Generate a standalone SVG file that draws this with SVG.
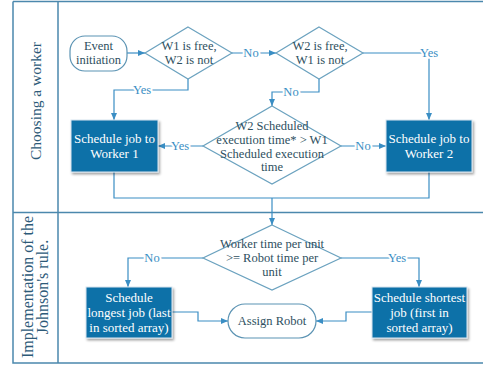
<svg xmlns="http://www.w3.org/2000/svg" width="483" height="365" viewBox="0 0 483 365">
<style>
.frame{fill:none;stroke:#4b88ad;stroke-width:1.5}
.lane{font-family:"Liberation Serif","DejaVu Serif",serif;font-size:16px;fill:#2d5a78;text-anchor:middle}
.dia{fill:#fff;stroke:#6ba2bf;stroke-width:1.2}
.term{fill:#fff;stroke:#5b93b3;stroke-width:1.2}
.box{fill:#1171a8;stroke:#d8e6ef;stroke-width:1}
.t{font-family:"Liberation Serif","DejaVu Serif",serif;font-size:12.5px;fill:#2e4f60;text-anchor:middle}
.tw{font-family:"Liberation Serif","DejaVu Serif",serif;font-size:13px;fill:#fff;text-anchor:middle}
.c{fill:none;stroke:#3a8ec4;stroke-width:1.2;marker-end:url(#ah)}
.cl{fill:none;stroke:#3a8ec4;stroke-width:1.2}
.lbl{font-family:"Liberation Serif","DejaVu Serif",serif;font-size:12.5px;fill:#3a8ec4;text-anchor:middle;stroke:#fff;stroke-width:4;paint-order:stroke}
</style>
<defs>
<marker id="ah" markerWidth="8" markerHeight="8" refX="7" refY="4" orient="auto" markerUnits="userSpaceOnUse">
<path d="M0,1 L7,4 L0,7 Z" fill="#3a8ec4"/>
</marker>
<filter id="sh" x="-10%" y="-10%" width="130%" height="130%">
<feDropShadow dx="1.5" dy="2" stdDeviation="1.2" flood-color="#000" flood-opacity="0.35"/>
</filter>
</defs>
<rect x="0" y="0" width="483" height="365" fill="#fff"/>
<g id="frame">
<path class="frame" d="M13,1.5 H483 M13,1.5 V363 H483 M58,1.5 V363 M13,212.5 H483"/>
<text class="lane" style="font-size:15.5px" transform="translate(41,101) rotate(-90)">Choosing a worker</text>
<text class="lane" transform="translate(33,287) rotate(-90)">Implementation of the</text>
<text class="lane" transform="translate(48,287) rotate(-90)">Johnson's rule.</text>
</g>
<g id="connectors">
<path class="c" d="M127,53 H145"/>
<path class="c" d="M232,53 H276"/>
<path class="cl" d="M363,53 H429"/>
<path class="c" d="M429,53 V120"/>
<path class="c" d="M188,79 V90 H114 V120"/>
<path class="c" d="M319,79 V92 H272 V106"/>
<path class="c" d="M203,146 H158"/>
<path class="c" d="M341,146 H386"/>
<path class="cl" d="M114,172 V198 H429 V172"/>
<path class="c" d="M272,198 V225"/>
<path class="c" d="M203,258 H128 V287"/>
<path class="c" d="M341,258 H419 V287"/>
<path class="c" d="M172,312 H198 V321 H228"/>
<path class="c" d="M372,312 H346 V321 H316"/>
<text class="lbl" x="251" y="57">No</text>
<text class="lbl" x="429" y="57">Yes</text>
<text class="lbl" x="142" y="94">Yes</text>
<text class="lbl" x="291" y="96">No</text>
<text class="lbl" x="180" y="150">Yes</text>
<text class="lbl" x="363" y="150">No</text>
<text class="lbl" x="152" y="262">No</text>
<text class="lbl" x="397" y="262">Yes</text>
</g>
<g id="event">
<rect class="term" x="70" y="36" width="57" height="35" rx="15"/>
<text class="t" x="98.5" y="50">Event</text>
<text class="t" x="98.5" y="64">initiation</text>
</g>
<g id="d1">
<polygon class="dia" points="188,27 232,53 188,79 145,53"/>
<text class="t" x="189" y="50">W1 is free,</text>
<text class="t" x="189" y="64">W2 is not</text>
</g>
<g id="d2">
<polygon class="dia" points="319,27 363,53 319,79 276,53"/>
<text class="t" x="320" y="50">W2 is free,</text>
<text class="t" x="320" y="64">W1 is not</text>
</g>
<g id="d3">
<polygon class="dia" points="272,106 341,146 272,184 203,146"/>
<text class="t" x="272" y="130">W2 Scheduled</text>
<text class="t" x="272" y="144">execution time* &gt; W1</text>
<text class="t" x="272" y="158">Scheduled execution</text>
<text class="t" x="272" y="171">time</text>
</g>
<g id="b1">
<rect class="box" x="71" y="120" width="87" height="52" filter="url(#sh)"/>
<text class="tw" x="114.5" y="143">Schedule job to</text>
<text class="tw" x="114.5" y="158">Worker 1</text>
</g>
<g id="b2">
<rect class="box" x="386" y="120" width="86" height="52" filter="url(#sh)"/>
<text class="tw" x="429" y="143">Schedule job to</text>
<text class="tw" x="429" y="158">Worker 2</text>
</g>
<g id="d4">
<polygon class="dia" points="272,225 341,258 272,290 203,258"/>
<text class="t" x="272" y="248">Worker time per unit</text>
<text class="t" x="272" y="262">&gt;= Robot time per</text>
<text class="t" x="272" y="276">unit</text>
</g>
<g id="b3">
<rect class="box" x="86" y="287" width="86" height="51" filter="url(#sh)"/>
<text class="tw" x="129" y="302">Schedule</text>
<text class="tw" x="129" y="317">longest job (last</text>
<text class="tw" x="129" y="332">in sorted array)</text>
</g>
<g id="b4">
<rect class="box" x="372" y="287" width="95" height="51" filter="url(#sh)"/>
<text class="tw" x="419.5" y="302">Schedule shortest</text>
<text class="tw" x="419.5" y="317">job (first in</text>
<text class="tw" x="419.5" y="332">sorted array)</text>
</g>
<g id="assign">
<rect class="term" x="228" y="304" width="88" height="34" rx="17"/>
<text class="t" x="272" y="325">Assign Robot</text>
</g>
</svg>
